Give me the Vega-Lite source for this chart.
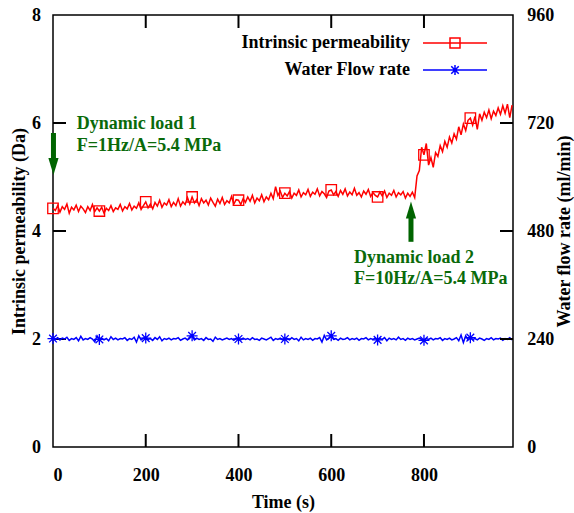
{
  "$schema": "https://vega.github.io/schema/vega-lite/v6.json",
  "width": 460,
  "height": 432,
  "autosize": {"type": "none"},
  "padding": {"left": 53, "top": 15, "right": 61, "bottom": 66},
  "background": "white",
  "config": {
    "font": "Liberation Serif",
    "view": {"stroke": "black", "strokeWidth": 1.5},
    "axis": {
      "labelFont": "Liberation Serif", "labelFontSize": 18, "labelFontWeight": "bold", "labelColor": "black",
      "titleFont": "Liberation Serif", "titleFontSize": 18, "titleFontWeight": "bold", "titleColor": "black",
      "ticks": false, "tickSize": 0, "domain": false, "grid": false
    }
  },
  "datasets": {
    "d": [
      {"t":0,"k":4.42,"q":241},{"t":5,"k":4.38,"q":239},{"t":10,"k":4.47,"q":243},{"t":15,"k":4.35,"q":238},{"t":20,"k":4.45,"q":242},
      {"t":25,"k":4.40,"q":240},{"t":30,"k":4.50,"q":244},{"t":35,"k":4.33,"q":237},{"t":40,"k":4.44,"q":241},{"t":45,"k":4.39,"q":239},
      {"t":50,"k":4.48,"q":243},{"t":55,"k":4.36,"q":236},{"t":60,"k":4.46,"q":246},{"t":65,"k":4.41,"q":238},{"t":70,"k":4.34,"q":241},
      {"t":75,"k":4.45,"q":239},{"t":80,"k":4.38,"q":243},{"t":85,"k":4.49,"q":240},{"t":90,"k":4.36,"q":234},{"t":95,"k":4.43,"q":247},
      {"t":100,"k":4.37,"q":239},{"t":105,"k":4.44,"q":242},{"t":110,"k":4.33,"q":238},{"t":115,"k":4.42,"q":241},{"t":120,"k":4.38,"q":236},
      {"t":125,"k":4.47,"q":245},{"t":130,"k":4.36,"q":239},{"t":135,"k":4.43,"q":242},{"t":140,"k":4.40,"q":238},{"t":145,"k":4.49,"q":241},
      {"t":150,"k":4.37,"q":240},{"t":155,"k":4.45,"q":243},{"t":160,"k":4.41,"q":237},{"t":165,"k":4.51,"q":241},{"t":170,"k":4.39,"q":239},
      {"t":175,"k":4.46,"q":244},{"t":180,"k":4.42,"q":233},{"t":185,"k":4.52,"q":247},{"t":190,"k":4.40,"q":238},{"t":195,"k":4.47,"q":242},
      {"t":200,"k":4.54,"q":242},{"t":205,"k":4.43,"q":239},{"t":210,"k":4.50,"q":241},{"t":215,"k":4.41,"q":237},{"t":220,"k":4.53,"q":243},
      {"t":225,"k":4.46,"q":239},{"t":230,"k":4.57,"q":245},{"t":235,"k":4.44,"q":236},{"t":240,"k":4.52,"q":241},{"t":245,"k":4.48,"q":239},
      {"t":250,"k":4.58,"q":242},{"t":255,"k":4.45,"q":238},{"t":260,"k":4.53,"q":241},{"t":265,"k":4.47,"q":240},{"t":270,"k":4.60,"q":243},
      {"t":275,"k":4.46,"q":237},{"t":280,"k":4.54,"q":240},{"t":285,"k":4.49,"q":242},{"t":290,"k":4.62,"q":238},{"t":295,"k":4.50,"q":245},
      {"t":300,"k":4.63,"q":247},{"t":305,"k":4.52,"q":238},{"t":310,"k":4.58,"q":242},{"t":315,"k":4.47,"q":239},{"t":320,"k":4.60,"q":241},
      {"t":325,"k":4.52,"q":237},{"t":330,"k":4.57,"q":243},{"t":335,"k":4.48,"q":239},{"t":340,"k":4.61,"q":240},{"t":345,"k":4.53,"q":235},
      {"t":350,"k":4.46,"q":244},{"t":355,"k":4.59,"q":239},{"t":360,"k":4.51,"q":241},{"t":365,"k":4.62,"q":238},{"t":370,"k":4.49,"q":240},
      {"t":375,"k":4.56,"q":242},{"t":380,"k":4.52,"q":239},{"t":385,"k":4.64,"q":241},{"t":390,"k":4.50,"q":237},{"t":395,"k":4.58,"q":242},
      {"t":400,"k":4.57,"q":240},{"t":405,"k":4.49,"q":238},{"t":410,"k":4.60,"q":242},{"t":415,"k":4.53,"q":239},{"t":420,"k":4.63,"q":241},
      {"t":425,"k":4.55,"q":238},{"t":430,"k":4.66,"q":243},{"t":435,"k":4.52,"q":239},{"t":440,"k":4.61,"q":240},{"t":445,"k":4.56,"q":237},
      {"t":450,"k":4.67,"q":242},{"t":455,"k":4.54,"q":240},{"t":460,"k":4.63,"q":238},{"t":465,"k":4.58,"q":241},{"t":470,"k":4.70,"q":244},
      {"t":475,"k":4.60,"q":237},{"t":480,"k":4.82,"q":241},{"t":485,"k":4.66,"q":239},{"t":490,"k":4.74,"q":242},{"t":495,"k":4.62,"q":238},
      {"t":500,"k":4.70,"q":240},{"t":505,"k":4.65,"q":241},{"t":510,"k":4.73,"q":238},{"t":515,"k":4.61,"q":243},{"t":520,"k":4.70,"q":239},
      {"t":525,"k":4.66,"q":241},{"t":530,"k":4.76,"q":236},{"t":535,"k":4.63,"q":244},{"t":540,"k":4.71,"q":238},{"t":545,"k":4.67,"q":241},
      {"t":550,"k":4.77,"q":239},{"t":555,"k":4.64,"q":242},{"t":560,"k":4.72,"q":237},{"t":565,"k":4.68,"q":241},{"t":570,"k":4.78,"q":240},
      {"t":575,"k":4.65,"q":243},{"t":580,"k":4.73,"q":233},{"t":585,"k":4.69,"q":248},{"t":590,"k":4.62,"q":238},{"t":595,"k":4.74,"q":242},
      {"t":600,"k":4.76,"q":247},{"t":605,"k":4.67,"q":239},{"t":610,"k":4.73,"q":241},{"t":615,"k":4.64,"q":237},{"t":620,"k":4.75,"q":242},
      {"t":625,"k":4.68,"q":239},{"t":630,"k":4.78,"q":240},{"t":635,"k":4.65,"q":243},{"t":640,"k":4.72,"q":238},{"t":645,"k":4.67,"q":241},
      {"t":650,"k":4.79,"q":239},{"t":655,"k":4.66,"q":242},{"t":660,"k":4.71,"q":237},{"t":665,"k":4.63,"q":241},{"t":670,"k":4.74,"q":240},
      {"t":675,"k":4.68,"q":243},{"t":680,"k":4.77,"q":238},{"t":685,"k":4.64,"q":241},{"t":690,"k":4.71,"q":239},{"t":695,"k":4.66,"q":242},
      {"t":700,"k":4.63,"q":238},{"t":705,"k":4.72,"q":241},{"t":710,"k":4.65,"q":239},{"t":715,"k":4.74,"q":243},{"t":720,"k":4.62,"q":236},
      {"t":725,"k":4.70,"q":242},{"t":730,"k":4.66,"q":239},{"t":735,"k":4.75,"q":241},{"t":740,"k":4.63,"q":238},{"t":745,"k":4.71,"q":244},
      {"t":750,"k":4.67,"q":239},{"t":755,"k":4.73,"q":241},{"t":760,"k":4.61,"q":237},{"t":765,"k":4.70,"q":242},{"t":770,"k":4.64,"q":239},
      {"t":775,"k":4.72,"q":241},{"t":780,"k":4.62,"q":238},{"t":785,"k":5.02,"q":240},{"t":790,"k":5.12,"q":242},{"t":795,"k":5.55,"q":239},
      {"t":800,"k":5.41,"q":237},{"t":805,"k":5.62,"q":241},{"t":810,"k":5.22,"q":239},{"t":815,"k":5.36,"q":242},{"t":820,"k":5.18,"q":238},
      {"t":825,"k":5.45,"q":241},{"t":830,"k":5.38,"q":240},{"t":835,"k":5.58,"q":243},{"t":840,"k":5.47,"q":237},{"t":845,"k":5.66,"q":241},
      {"t":850,"k":5.55,"q":239},{"t":855,"k":5.74,"q":242},{"t":860,"k":5.63,"q":238},{"t":865,"k":5.80,"q":240},{"t":870,"k":5.70,"q":243},
      {"t":875,"k":5.93,"q":236},{"t":880,"k":5.78,"q":249},{"t":885,"k":5.98,"q":232},{"t":890,"k":5.86,"q":247},{"t":895,"k":6.05,"q":238},
      {"t":900,"k":6.09,"q":243},{"t":905,"k":5.96,"q":239},{"t":910,"k":6.12,"q":241},{"t":915,"k":5.88,"q":238},{"t":920,"k":6.17,"q":242},
      {"t":925,"k":6.05,"q":240},{"t":930,"k":6.20,"q":237},{"t":935,"k":6.10,"q":241},{"t":940,"k":6.24,"q":239},{"t":945,"k":6.08,"q":243},
      {"t":950,"k":6.22,"q":238},{"t":955,"k":6.14,"q":241},{"t":960,"k":6.28,"q":240},{"t":965,"k":6.16,"q":242},{"t":970,"k":6.32,"q":237},
      {"t":975,"k":6.18,"q":241},{"t":980,"k":6.35,"q":239},{"t":985,"k":6.10,"q":243},{"t":990,"k":6.33,"q":238}
    ],
    "ann": [
      {"t":51,"k":5.89,"label":"Dynamic load 1"},
      {"t":51,"k":5.48,"label":"F=1Hz/A=5.4 MPa"},
      {"t":649,"k":3.41,"label":"Dynamic load 2"},
      {"t":649,"k":3.02,"label":"F=10Hz/A=5.4 MPa"}
    ],
    "arr": [
      {"t":1,"k":5.815,"to":5.30,"head":5.194,"dir":"down"},
      {"t":772,"k":3.80,"to":4.30,"head":4.39,"dir":"up"}
    ],
    "xt": [{"t":200},{"t":400},{"t":600},{"t":800}],
    "yt": [{"k":2},{"k":4},{"k":6}],
    "qt": [{"q":240},{"q":480},{"q":720}]
  },
  "resolve": {"scale": {"y": "independent"}, "axis": {"x": "independent"}},
  "layer": [
    {
      "layer": [
        {
          "data": {"name": "d"},
          "mark": {"type": "line", "strokeWidth": 1.5},
          "encoding": {
            "x": {"field": "t", "type": "quantitative", "scale": {"domain": [0, 992], "nice": false},
                  "axis": {"title": "Time (s)", "values": [0, 200, 400, 600, 800], "labelPadding": 19, "titlePadding": 9}},
            "y": {"field": "k", "type": "quantitative", "scale": {"domain": [0, 8], "nice": false},
                  "axis": {"title": "Intrinsic permeability (Da)", "values": [0, 2, 4, 6, 8], "labelPadding": 12.5, "titlePadding": 3}},
            "color": {
              "datum": "Intrinsic permeability",
              "scale": {"domain": ["Intrinsic permeability", "Water Flow rate"], "range": ["#ff0000", "#0000ff"]},
              "legend": {
                "title": null, "orient": "none", "legendX": 393, "legendY": 19, "padding": 0,
                "symbolSize": 100, "symbolStrokeWidth": 1.5,
                "labelFont": "Liberation Serif", "labelFontSize": 18, "labelFontWeight": "bold", "labelColor": "black",
                "labelAlign": "right", "labelOffset": -54, "rowPadding": 9, "labelLimit": 400,
                "encode": {"symbols": {"update": {
                  "shape": {"signal": "datum.value == 'Intrinsic permeability' ? 'M-6.4,0H6.4M-1,-1H1V1H-1Z' : 'M-6.4,0H6.4M0,-1V1M-0.75,-0.75L0.75,0.75M-0.75,0.75L0.75,-0.75'"},
                  "fill": {"value": "transparent"}
                }}}
              }
            }
          }
        },
        {
          "data": {"name": "xt"},
          "mark": {"type": "rule", "color": "black", "strokeWidth": 2, "opacity": 1},
          "encoding": {
            "x": {"field": "t", "type": "quantitative"},
            "y": {"datum": 0, "type": "quantitative"},
            "y2": {"datum": 0.2407}
          }
        },
        {
          "data": {"name": "xt"},
          "mark": {"type": "rule", "color": "black", "strokeWidth": 2, "opacity": 1},
          "encoding": {
            "x": {"field": "t", "type": "quantitative"},
            "y": {"datum": 8, "type": "quantitative"},
            "y2": {"datum": 7.7593}
          }
        },
        {
          "data": {"name": "yt"},
          "mark": {"type": "rule", "color": "black", "strokeWidth": 2, "opacity": 1},
          "encoding": {
            "x": {"datum": 0, "type": "quantitative"},
            "x2": {"datum": 28.03},
            "y": {"field": "k", "type": "quantitative"}
          }
        },
        {
          "data": {"name": "d"},
          "transform": [{"filter": "datum.t % 100 == 0"}],
          "mark": {"type": "point", "shape": "square", "filled": false, "color": "#ff0000", "size": 110, "strokeWidth": 1.3, "opacity": 1},
          "encoding": {
            "x": {"field": "t", "type": "quantitative"},
            "y": {"field": "k", "type": "quantitative"}
          }
        },
        {
          "data": {"name": "ann"},
          "mark": {"type": "text", "align": "left", "baseline": "alphabetic", "font": "Liberation Serif", "fontSize": 18, "fontWeight": "bold", "color": "#0a6a0a"},
          "encoding": {
            "x": {"field": "t", "type": "quantitative"},
            "y": {"field": "k", "type": "quantitative"},
            "text": {"field": "label"}
          }
        },
        {
          "data": {"name": "arr"},
          "mark": {"type": "rule", "strokeWidth": 5, "color": "#006400"},
          "encoding": {
            "x": {"field": "t", "type": "quantitative"},
            "y": {"field": "k", "type": "quantitative"},
            "y2": {"field": "to"}
          }
        },
        {
          "data": {"name": "arr"},
          "mark": {"type": "point", "filled": true, "color": "#006400", "size": 289, "opacity": 1, "strokeWidth": 0},
          "encoding": {
            "x": {"field": "t", "type": "quantitative"},
            "y": {"field": "head", "type": "quantitative", "title": "Intrinsic permeability (Da)"},
            "shape": {"field": "dir", "type": "nominal", "legend": null,
                      "scale": {"domain": ["down", "up"], "range": ["M-0.6,-1L0.6,-1L0,1Z", "M-0.6,1L0.6,1L0,-1Z"]}}
          }
        }
      ]
    },
    {
      "layer": [
        {
          "data": {"name": "d"},
          "mark": {"type": "line", "strokeWidth": 1.5},
          "encoding": {
            "x": {"field": "t", "type": "quantitative", "axis": null},
            "y": {"field": "q", "type": "quantitative", "scale": {"domain": [0, 960], "nice": false},
                  "axis": {"orient": "right", "title": "Water flow rate (ml/min)", "values": [0, 240, 480, 720, 960],
                           "labelPadding": 13.7, "titlePadding": 2, "titleAngle": -90, "titleBaseline": "top"}},
            "color": {"datum": "Water Flow rate"}
          }
        },
        {
          "data": {"name": "qt"},
          "mark": {"type": "rule", "color": "black", "strokeWidth": 2, "opacity": 1},
          "encoding": {
            "x": {"datum": 992, "type": "quantitative"},
            "x2": {"datum": 963.97},
            "y": {"field": "q", "type": "quantitative"}
          }
        },
        {
          "data": {"name": "d"},
          "transform": [{"filter": "datum.t % 100 == 0"}],
          "mark": {"type": "point", "shape": "M-1,0H1M0,-1V1M-0.7,-0.7L0.7,0.7M-0.7,0.7L0.7,-0.7", "filled": false, "color": "#0000ff", "size": 121, "strokeWidth": 1.3, "opacity": 1},
          "encoding": {
            "x": {"field": "t", "type": "quantitative"},
            "y": {"field": "q", "type": "quantitative"}
          }
        }
      ]
    }
  ]
}
